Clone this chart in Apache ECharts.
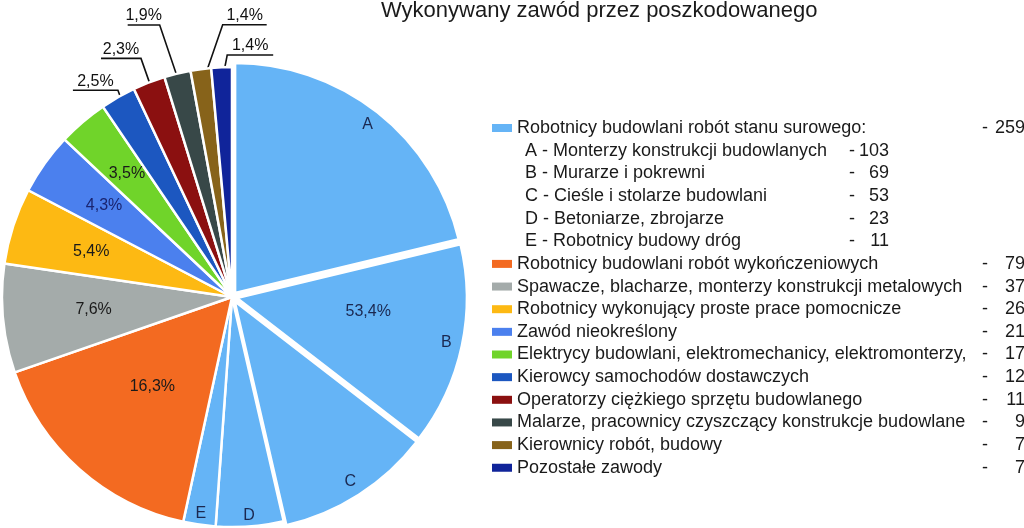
<!DOCTYPE html>
<html><head><meta charset="utf-8">
<script src="https://cdn.jsdelivr.net/npm/echarts@6/dist/echarts.min.js"></script>
<style>html,body{margin:0;padding:0;background:#fff}#c{width:1024px;height:528px}</style>
</head><body><div id="c"></div>
<script>
// ---------- data ----------
const chartTitle = 'Wykonywany zawód przez poszkodowanego';
const groupName = 'Robotnicy budowlani robót stanu surowego:';
const groupValue = 259;
const subLetters = ['A', 'B', 'C', 'D', 'E'];
const subNames = ['Monterzy konstrukcji budowlanych', 'Murarze i pokrewni', 'Cieśle i stolarze budowlani', 'Betoniarze, zbrojarze', 'Robotnicy budowy dróg'];
const subValues = [103, 69, 53, 23, 11];
const otherNames = ['Robotnicy budowlani robót wykończeniowych', 'Spawacze, blacharze, monterzy konstrukcji metalowych', 'Robotnicy wykonujący proste prace pomocnicze', 'Zawód nieokreślony', 'Elektrycy budowlani, elektromechanicy, elektromonterzy,', 'Kierowcy samochodów dostawczych', 'Operatorzy ciężkiego sprzętu budowlanego', 'Malarze, pracownicy czyszczący konstrukcje budowlane', 'Kierownicy robót, budowy', 'Pozostałe zawody'];
const otherValues = [79, 37, 26, 21, 17, 12, 11, 9, 7, 7];

// ---------- styles ----------
const groupColor = '#65b4f6';
const otherColors = ['#f36a21', '#a4abaa', '#fdb913', '#4b80ee', '#70d42a', '#1c57c0', '#8b1010', '#384848', '#87631a', '#10249a'];
const FONT = '"Liberation Sans", Arial, Helvetica, sans-serif';
const CX = 232, CY = 297, R = 230;
const TRANSPARENT = 'rgba(0,0,0,0)';
const selectedSubs = [true, true, true, false, false];
// radial distance of the inside percent labels (by grouped index)
const pctLabelRadius = [137, 120, 139, 148, 157, 162];
// leader line offsets for outside labels: [dx to elbow, dy to elbow, horizontal length]
const leaderOffsets = {6: [-7, -19, -45], 7: [-13, -37, -40], 8: [-21, -62, -32], 9: [20, -58, 44], 10: [5, -26, 46]};

const total = groupValue + otherValues.reduce((a, b) => a + b, 0);
const pct = v => (v / total * 100).toFixed(1).replace('.', ',') + '%';

const detailData = subValues.map((v, i) => ({name: subLetters[i], value: v, selected: selectedSubs[i], itemStyle: {color: groupColor}}))
  .concat(otherValues.map((v, i) => ({name: otherNames[i], value: v, itemStyle: {color: otherColors[i]}})));
const groupedData = [{name: groupName, value: groupValue}].concat(otherValues.map((v, i) => ({name: otherNames[i], value: v})));

const common = {
  type: 'pie', center: [CX, CY], startAngle: 90, clockwise: true, avoidLabelOverlap: false,
  silent: true, animation: false, emphasis: {disabled: true}
};

const series = [
  Object.assign({}, common, {
    radius: R, selectedMode: 'multiple', selectedOffset: 5,
    itemStyle: {borderColor: '#fff', borderWidth: 2.5},
    label: {show: false}, labelLine: {show: false},
    data: detailData
  }),
  // letters A..E
  Object.assign({}, common, {
    radius: [R * 0.88, R],
    itemStyle: {color: TRANSPARENT},
    label: {show: true, position: 'inside', fontFamily: FONT, fontSize: 16, color: '#1b2850',
      formatter: p => p.dataIndex < subLetters.length ? subLetters[p.dataIndex] : ''},
    labelLine: {show: false},
    data: detailData.map(d => ({name: d.name, value: d.value}))
  }),
  // percent labels inside
  Object.assign({}, common, {
    radius: [0, R],
    itemStyle: {color: TRANSPARENT},
    label: {show: true, position: 'inside', fontFamily: FONT, fontSize: 16,
      formatter: p => p.dataIndex < pctLabelRadius.length ? pct(p.value) : ''},
    labelLine: {show: false},
    labelLayout: function (p) {
      const rr = pctLabelRadius[p.dataIndex];
      if (rr == null || !p.labelRect) return {};
      const lx = p.labelRect.x + p.labelRect.width / 2, ly = p.labelRect.y + p.labelRect.height / 2;
      const dx = lx - CX, dy = ly - CY, d = Math.sqrt(dx * dx + dy * dy) || 1;
      return {x: CX + dx / d * rr, y: CY + dy / d * rr, align: 'center', verticalAlign: 'middle'};
    },
    data: groupedData.map((d, i) => ({name: d.name, value: d.value,
      label: {color: i === 0 ? '#1b2850' : (i === 4 ? '#1a2470' : '#1a1a1a')}}))
  }),
  // outside labels with leader lines
  Object.assign({}, common, {
    radius: R * 0.94,
    itemStyle: {color: TRANSPARENT},
    label: {show: true, position: 'outside', fontFamily: FONT, fontSize: 16, color: '#111',
      formatter: p => pct(p.value)},
    labelLine: {show: true, length: 10, length2: 10, lineStyle: {color: '#111', width: 1.6}},
    labelLayout: function (p) {
      const o = leaderOffsets[p.dataIndex];
      if (!o || !p.labelLinePoints) return {};
      const s = p.labelLinePoints[0];
      const e = [s[0] + o[0], s[1] + o[1]];
      const f = [e[0] + o[2], e[1]];
      return {x: (e[0] + f[0]) / 2, y: e[1] - 1, align: 'center', verticalAlign: 'bottom', labelLinePoints: [s, e, f]};
    },
    data: groupedData.map((d, i) => ({name: d.name, value: d.value,
      label: {show: i >= 6}, labelLine: {show: i >= 6}}))
  })
];

// ---------- legend (graphic) ----------
const ROW0 = 128, ROWH = 22.65;
const TXT = '#1a1a1a';
const graphics = [];
function txt(x, y, text, align) {
  graphics.push({type: 'text', silent: true, style: {x: x, y: y, text: text, font: '18px ' + FONT, fill: TXT,
    align: align, textAlign: align, verticalAlign: 'middle', textVerticalAlign: 'middle'}});
}
function mainRow(row, color, name, value) {
  const y = ROW0 + row * ROWH;
  graphics.push({type: 'rect', silent: true, shape: {x: 492, y: y - 4, width: 20, height: 8}, style: {fill: color}});
  txt(517, y, name, 'left');
  txt(982, y, '-', 'left');
  txt(1025, y, String(value), 'right');
}
mainRow(0, groupColor, groupName, groupValue);
subLetters.forEach((l, i) => {
  const y = ROW0 + (i + 1) * ROWH;
  txt(525, y, l + ' - ' + subNames[i], 'left');
  txt(849, y, '-', 'left');
  txt(889, y, String(subValues[i]), 'right');
});
otherNames.forEach((n, i) => mainRow(i + 1 + subLetters.length, otherColors[i], n, otherValues[i]));

const chart = echarts.init(document.getElementById('c'), null, {renderer: 'canvas'});
chart.setOption({
  backgroundColor: '#fff',
  animation: false,
  title: {text: chartTitle, left: 381, top: 0, padding: 0,
    textStyle: {fontFamily: FONT, fontSize: 22, fontWeight: 'normal', color: '#1a1a1a'}},
  series: series,
  graphic: graphics
});
</script>
</body></html>
